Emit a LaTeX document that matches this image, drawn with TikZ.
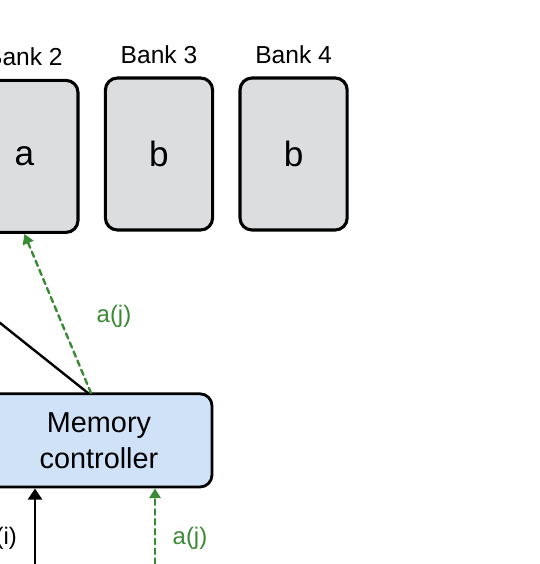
\documentclass[tikz,border=0pt]{standalone}
\usepackage{fontspec}
\setmainfont{Liberation Sans}
\usetikzlibrary{arrows.meta,positioning}

\definecolor{bankgray}{RGB}{220,221,223}
\definecolor{ctrlblue}{RGB}{207,226,248}
\definecolor{reqgreen}{RGB}{58,138,52}

\tikzset{
  bankbox/.style={draw,line width=2.2pt,rounded corners=0.3cm,fill=bankgray,
    minimum width=2.68cm,minimum height=3.8cm,font=\fontsize{25}{30}\selectfont},
  banklabel/.style={font=\fontsize{17.5}{21}\selectfont},
  ctrlbox/.style={draw,line width=2pt,rounded corners=0.3cm,fill=ctrlblue,
    minimum width=5.65cm,minimum height=2.33cm,align=center,
    font=\fontsize{20.5}{25.5}\selectfont},
  greenreq/.style={reqgreen,line width=1.7pt,dash pattern=on 4pt off 3pt,
    -{Triangle[length=7pt,width=8pt]}},
  blackreq/.style={line width=1.9pt,-{Triangle[length=8pt,width=10pt]}},
  reqlabel/.style={font=\fontsize{17}{20}\selectfont}
}

\begin{document}
\begin{tikzpicture}[line cap=round,line join=round]
  \useasboundingbox (0,0) rectangle (13.5,14.1);
  \clip (0,0) rectangle (13.5,14.1);
  % banks
  \node[bankbox] (bank2) at (0.61,10.19) {a};
  \node[bankbox] (bank3) at (3.975,10.25) {b};
  \node[bankbox] (bank4) at (7.34,10.25) {b};
  \node[banklabel,above=0.2cm of bank2] (lab2) {Bank 2};
  \node[banklabel,above=0.2cm of bank3] (lab3) {Bank 3};
  \node[banklabel,above=0.2cm of bank4] (lab4) {Bank 4};
  % controller
  \node[ctrlbox] (ctrl) at (2.475,3.09) {Memory\\controller};
  \coordinate (wireA) at (2.2,4.275);
  \coordinate (wireB) at (-2.825,8.275);
  \coordinate (reqA) at (2.275,4.275);
  \draw[line width=1.7pt] (wireA) -- (wireB);
  \draw[greenreq] (reqA) -- (bank2.south);
  \node[reqlabel,reqgreen] (lj1) at (2.85,6.2) {a(j)};
  % inputs
  \coordinate (inI) at (0.875,0);
  \coordinate (inJ) at (3.875,0);
  \draw[blackreq] (inI) -- (inI |- ctrl.south);
  \draw[greenreq] (inJ) -- (inJ |- ctrl.south);
  \node[reqlabel] (li) at (-0.01,0.65) {a(i)};
  \node[reqlabel,reqgreen] (lj2) at (4.75,0.65) {a(j)};
\end{tikzpicture}
\end{document}
